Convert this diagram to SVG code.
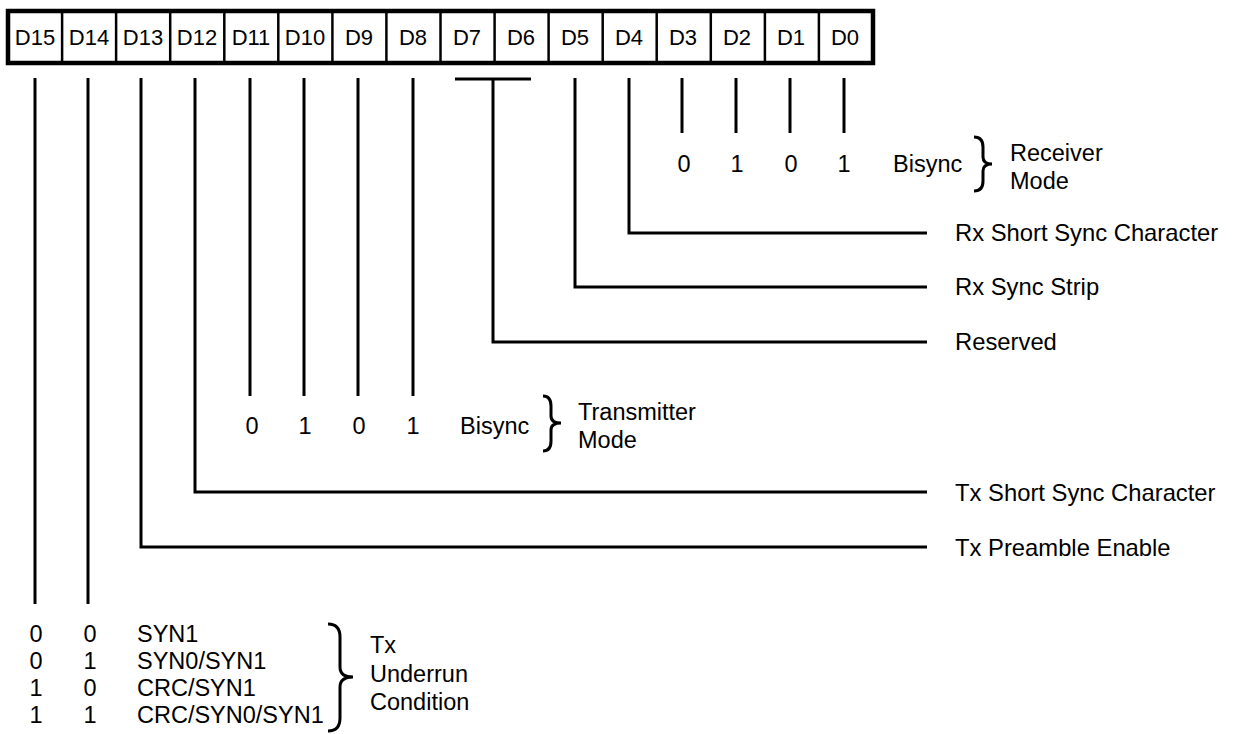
<svg xmlns="http://www.w3.org/2000/svg" width="1233" height="734" viewBox="0 0 1233 734">
<style>
text{font-family:"Liberation Sans",Arial,sans-serif;font-size:23.5px;fill:#000}
.c{text-anchor:middle}
.lbl{font-size:23.8px}
.cell{font-size:22px;text-anchor:middle}
.ln{stroke:#000;stroke-width:3;fill:none;stroke-linecap:butt}
.br{stroke:#000;stroke-width:3;fill:none}
.div{stroke:#000;stroke-width:2.5}
</style>
<rect width="1233" height="734" fill="#fff"/>
<g id="register">
<rect x="8" y="11" width="865" height="52" fill="#fff" stroke="#000" stroke-width="4.5"/>
<g class="div">
<line x1="62.1" y1="11" x2="62.1" y2="63"/><line x1="116.1" y1="11" x2="116.1" y2="63"/>
<line x1="170.2" y1="11" x2="170.2" y2="63"/><line x1="224.3" y1="11" x2="224.3" y2="63"/>
<line x1="278.3" y1="11" x2="278.3" y2="63"/><line x1="332.4" y1="11" x2="332.4" y2="63"/>
<line x1="386.4" y1="11" x2="386.4" y2="63"/><line x1="440.5" y1="11" x2="440.5" y2="63"/>
<line x1="494.6" y1="11" x2="494.6" y2="63"/><line x1="548.6" y1="11" x2="548.6" y2="63"/>
<line x1="602.7" y1="11" x2="602.7" y2="63"/><line x1="656.7" y1="11" x2="656.7" y2="63"/>
<line x1="710.8" y1="11" x2="710.8" y2="63"/><line x1="764.9" y1="11" x2="764.9" y2="63"/>
<line x1="818.9" y1="11" x2="818.9" y2="63"/>
</g>
<text class="cell" x="35" y="45">D15</text><text class="cell" x="89" y="45">D14</text>
<text class="cell" x="143" y="45">D13</text><text class="cell" x="197" y="45">D12</text>
<text class="cell" x="251" y="45">D11</text><text class="cell" x="305" y="45">D10</text>
<text class="cell" x="359" y="45">D9</text><text class="cell" x="413" y="45">D8</text>
<text class="cell" x="467" y="45">D7</text><text class="cell" x="521" y="45">D6</text>
<text class="cell" x="575" y="45">D5</text><text class="cell" x="629" y="45">D4</text>
<text class="cell" x="683" y="45">D3</text><text class="cell" x="737" y="45">D2</text>
<text class="cell" x="791" y="45">D1</text><text class="cell" x="845" y="45">D0</text>
</g>
<g id="connectors" class="ln">
<line x1="35" y1="78" x2="35" y2="604"/>
<line x1="88" y1="78" x2="88" y2="604"/>
<polyline points="141,78 141,547 927,547"/>
<polyline points="195,78 195,492 927,492"/>
<line x1="250" y1="78" x2="250" y2="396"/>
<line x1="304" y1="78" x2="304" y2="396"/>
<line x1="358" y1="78" x2="358" y2="396"/>
<line x1="413" y1="78" x2="413" y2="396"/>
<line x1="455" y1="79" x2="531" y2="79"/>
<polyline points="493,79 493,342 927,342"/>
<polyline points="575,78 575,287 927,287"/>
<polyline points="629,78 629,233 927,233"/>
<line x1="682" y1="78" x2="682" y2="133"/>
<line x1="736" y1="78" x2="736" y2="133"/>
<line x1="790" y1="78" x2="790" y2="133"/>
<line x1="844" y1="78" x2="844" y2="133"/>
</g>
<g id="receiver-mode">
<text class="c" x="684" y="172">0</text><text class="c" x="737" y="172">1</text>
<text class="c" x="791" y="172">0</text><text class="c" x="844" y="172">1</text>
<text x="893" y="172">Bisync</text>
<path class="br" d="M974,137 Q983,137 983,147 L983,157 Q983,164 992,164 Q983,164 983,171 L983,181 Q983,191 974,191"/>
<text x="1010" y="161">Receiver</text>
<text x="1010" y="189">Mode</text>
</g>
<g id="rx-short-sync"><text class="lbl" x="955" y="241">Rx Short Sync Character</text></g>
<g id="rx-sync-strip"><text class="lbl" x="955" y="295">Rx Sync Strip</text></g>
<g id="reserved"><text class="lbl" x="955" y="350">Reserved</text></g>
<g id="transmitter-mode">
<text class="c" x="252" y="434">0</text><text class="c" x="305" y="434">1</text>
<text class="c" x="359" y="434">0</text><text class="c" x="413" y="434">1</text>
<text x="460" y="434">Bisync</text>
<path class="br" d="M543,396 Q551,396 551,406 L551,416 Q551,423 561,423 Q551,423 551,430 L551,441 Q551,451 543,451"/>
<text x="578" y="420">Transmitter</text>
<text x="578" y="448">Mode</text>
</g>
<g id="tx-short-sync"><text class="lbl" x="955" y="501">Tx Short Sync Character</text></g>
<g id="tx-preamble"><text class="lbl" x="955" y="556">Tx Preamble Enable</text></g>
<g id="tx-underrun">
<text class="c" x="36" y="642">0</text><text class="c" x="90" y="642">0</text><text x="137" y="642">SYN1</text>
<text class="c" x="36" y="669">0</text><text class="c" x="90" y="669">1</text><text x="137" y="669">SYN0/SYN1</text>
<text class="c" x="36" y="696">1</text><text class="c" x="90" y="696">0</text><text x="137" y="696">CRC/SYN1</text>
<text class="c" x="36" y="723">1</text><text class="c" x="90" y="723">1</text><text x="137" y="723">CRC/SYN0/SYN1</text>
<path class="br" d="M328,624 Q340,624 340,637 L340,667 Q340,677 353,677 Q340,677 340,687 L340,718 Q340,731 328,731"/>
<text x="370" y="653">Tx</text>
<text x="370" y="682">Underrun</text>
<text x="370" y="710">Condition</text>
</g>
</svg>
